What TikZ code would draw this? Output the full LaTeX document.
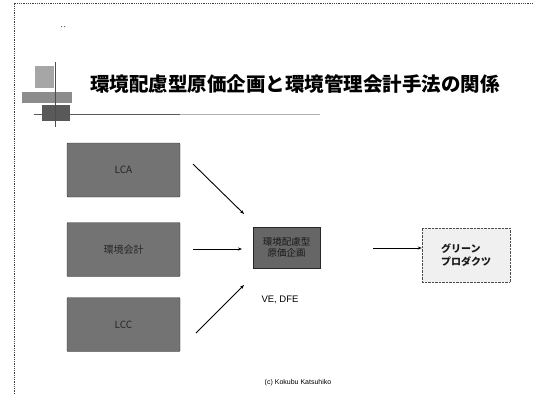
\documentclass[tikz,border=0pt]{standalone}
\usepackage{fontspec}
\setmainfont{Liberation Sans}
\newfontfamily\cjk{Noto Sans CJK JP}
\usetikzlibrary{arrows.meta}
\begin{document}
\begin{tikzpicture}[x=1pt,y=-1pt,
  srcbox/.style={draw=black!80, fill=black!55, minimum width=113pt, minimum height=54pt, rounded corners=1pt, inner sep=0pt, font=\cjk\fontsize{10}{12}\selectfont, text=black!85},
  midbox/.style={draw=black!85, fill=black!60, minimum width=67pt, minimum height=41pt, inner sep=0pt, align=center, font=\cjk\fontsize{9.5}{11}\selectfont, text=black!90},
  greenbox/.style={draw=black!70, densely dotted, fill=black!6, minimum width=88pt, minimum height=54pt, inner sep=0pt, align=left, font=\cjk\bfseries\itshape\fontsize{10}{13}\selectfont, text=black!90},
  conn/.style={line width=0.9pt, -{Stealth[length=4pt,width=3pt]}}]
\useasboundingbox (0,0) rectangle (533,394);
% page frame
\draw[black!75, densely dotted, line width=0.8pt] (14,394) -- (14,3) -- (533,3);
\fill[black!60] (61,26) rectangle (62,27) (64,26) rectangle (65,27);
% title icon
\fill[black!35] (35,66) rectangle (54,88);
\fill[black!45] (22,92) rectangle (72,103);
\fill[black!65] (42,105) rectangle (70,121);
\draw[black!70, line width=1pt] (55,62) -- (55,127);
\draw[black!65, line width=0.8pt] (34,114) -- (180,114);
\draw[black!30, line width=0.6pt] (180,114) -- (320,114);
% title
\node[anchor=west, inner sep=0pt, font=\cjk\bfseries\fontsize{19.5}{22}\selectfont] (title) at (90,84) {環境配慮型原価企画と環境管理会計手法の関係};
% boxes
\node[srcbox] (b1) at (123.5,170) {LCA};
\node[srcbox] (b2) at (123.5,249.5) {環境会計};
\node[srcbox] (b3) at (123.5,324.5) {LCC};
\node[midbox] (m) at (286.5,247.5) {環境配慮型\\原価企画};
\node[greenbox] (g) at (466,255) {グリーン\\プロダクツ};
\node[font=\fontsize{9.5}{11}\selectfont] (ve) at (280,300) {VE, DFE};
\node[font=\fontsize{7}{8}\selectfont] (cr) at (298,383) {(c) Kokubu Katsuhiko};
% connectors
\coordinate (s1) at (193,164);
\coordinate (s2) at (193,249);
\coordinate (s3) at (196,333);
\coordinate (e1) at (244,214);
\coordinate (e2) at (242,249);
\coordinate (e3) at (244,285);
\coordinate (s4) at (373,248);
\draw[conn] (s1) -- (e1);
\draw[conn] (s2) -- (e2);
\draw[conn] (s3) -- (e3);
\draw[conn] (s4) -- (g.west |- s4);
\end{tikzpicture}
\end{document}
